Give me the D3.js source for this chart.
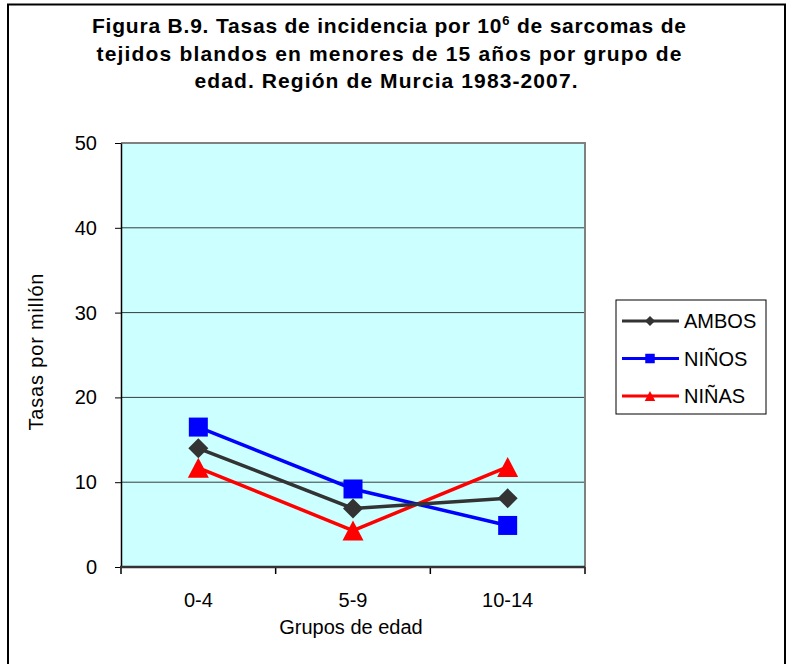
<!DOCTYPE html>
<html>
<head>
<meta charset="utf-8">
<script src="https://cdn.jsdelivr.net/npm/d3@7"></script>
<style>
  body { margin:0; background:#fff; }
  text { font-family: "Liberation Sans", Arial, sans-serif; fill:#000; }
  .title { font-size:21px; font-weight:bold; }
  .tick text { font-size:20px; font-family: "Liberation Sans", Arial, sans-serif; }
  .axistitle { font-size:20px; }
  .legtext { font-size:20px; }
</style>
</head>
<body>
<div id="chart"></div>
<script>
// data
var categories = ["0-4", "5-9", "10-14"];
var ambos = [14.0, 6.9, 8.1];
var ninos = [16.5, 9.2, 4.9];
var ninas = [11.7, 4.3, 11.8];
var yTicks = [0, 10, 20, 30, 40, 50];
var seriesNames = ["AMBOS", "NIÑOS", "NIÑAS"];

var viewboxwidth = 787;
var viewboxheight = 664;
var plot = {left:121, right:585, top:143, bottom:567};

var svg = d3.select("#chart")
    .append("svg")
    .attr("width", viewboxwidth)
    .attr("height", viewboxheight);

// outer frame
svg.append("rect")
    .attr("x", 8).attr("y", 4.5)
    .attr("width", 777).attr("height", 680)
    .attr("fill", "#fff")
    .attr("stroke", "#000")
    .attr("stroke-width", 2);

// title
var titleX = 389;
var t1 = svg.append("text").attr("class","title")
    .attr("x", titleX).attr("y", 33)
    .attr("text-anchor","middle")
    .attr("textLength", 594).attr("lengthAdjust","spacing");
t1.append("tspan").text("Figura B.9. Tasas de incidencia por 10");
t1.append("tspan").text("6").attr("font-size","13px").attr("dy",-8);
t1.append("tspan").text(" de sarcomas de").attr("dy",8);

svg.append("text").attr("class","title")
    .attr("x", titleX).attr("y", 61)
    .attr("text-anchor","middle")
    .attr("textLength", 585).attr("lengthAdjust","spacing")
    .text("tejidos blandos en menores de 15 años por grupo de");

svg.append("text").attr("class","title")
    .attr("x", titleX - 3).attr("y", 88)
    .attr("text-anchor","middle")
    .attr("textLength", 383).attr("lengthAdjust","spacing")
    .text("edad. Región de Murcia 1983-2007.");

// scales
var x = d3.scaleBand()
    .domain(categories)
    .range([plot.left, plot.right]);

var y = d3.scaleLinear()
    .domain([0, 50])
    .range([plot.bottom, plot.top]);

function cx(c){ return x(c) + x.bandwidth()/2; }

// plot area
svg.append("rect")
    .attr("x", plot.left).attr("y", plot.top)
    .attr("width", plot.right - plot.left)
    .attr("height", plot.bottom - plot.top)
    .attr("fill", "#CCFFFF");

// gridlines
svg.append("g").selectAll("line")
    .data(yTicks.filter(function(d){ return d > 0 && d < 50; }))
    .enter().append("line")
    .attr("x1", plot.left).attr("x2", plot.right)
    .attr("y1", function(d){ return y(d); })
    .attr("y2", function(d){ return y(d); })
    .attr("stroke", "#3a3a3a")
    .attr("stroke-width", 1);

// gray border top / right
svg.append("path")
    .attr("d", "M" + plot.left + "," + plot.top + "H" + plot.right + "V" + plot.bottom)
    .attr("fill", "none")
    .attr("stroke", "#808080")
    .attr("stroke-width", 2);

// y axis
var yAxis = svg.append("g")
    .attr("transform", "translate(" + plot.left + ",0)")
    .call(d3.axisLeft(y).tickValues(yTicks).tickSize(6).tickSizeOuter(0).tickPadding(18));
yAxis.select(".domain").attr("stroke", "#000").attr("stroke-width", 1.5);
yAxis.selectAll(".tick line").attr("stroke", "#000");
yAxis.selectAll(".tick text").attr("fill", "#000");

// x axis labels
var xAxis = svg.append("g")
    .attr("transform", "translate(0," + plot.bottom + ")")
    .call(d3.axisBottom(x).tickSize(0).tickPadding(26));
xAxis.select(".domain").remove();
xAxis.selectAll(".tick text").attr("fill", "#000");

// x axis line and boundary ticks
svg.append("g").selectAll("line")
    .data(categories.map(function(c){ return x(c); }).concat([x.range()[1]]))
    .enter().append("line")
    .attr("x1", function(d){ return d; }).attr("x2", function(d){ return d; })
    .attr("y1", plot.bottom).attr("y2", plot.bottom + 7)
    .attr("stroke", "#000").attr("stroke-width", 1.5);

svg.append("line")
    .attr("x1", plot.left - 1).attr("x2", plot.right)
    .attr("y1", plot.bottom).attr("y2", plot.bottom)
    .attr("stroke", "#333").attr("stroke-width", 2.5);

// axis titles
svg.append("text").attr("class","axistitle")
    .attr("x", (plot.left + plot.right)/2 - 2).attr("y", 634)
    .attr("text-anchor","middle")
    .text("Grupos de edad");

svg.append("text").attr("class","axistitle")
    .attr("transform", "translate(43," + ((plot.top + plot.bottom)/2 - 3) + ") rotate(-90)")
    .attr("text-anchor","middle")
    .attr("textLength", 157).attr("lengthAdjust","spacing")
    .text("Tasas por millón");

// marker shapes
function diamond(s){ return "M0," + (-s) + "L" + s + ",0L0," + s + "L" + (-s) + ",0Z"; }
function square(s){ return "M" + (-s) + "," + (-s) + "H" + s + "V" + s + "H" + (-s) + "Z"; }
function triangle(s){ return "M0," + (-s) + "L" + (s*1.05) + "," + s + "L" + (-s*1.05) + "," + s + "Z"; }

var series = [
    {name: seriesNames[0], values: ambos, color: "#333333", shape: diamond, size: 10},
    {name: seriesNames[1], values: ninos, color: "#0000FF", shape: square, size: 9.5},
    {name: seriesNames[2], values: ninas, color: "#FF0000", shape: triangle, size: 10}
];

var line = d3.line()
    .x(function(d, i){ return cx(categories[i]); })
    .y(function(d){ return y(d); });

// draw in reverse so AMBOS sits on top like the reference
series.slice().reverse().forEach(function(s){
    var g = svg.append("g");
    g.append("path")
        .attr("d", line(s.values))
        .attr("fill", "none")
        .attr("stroke", s.color)
        .attr("stroke-width", 3.5);
    g.selectAll(".marker")
        .data(s.values)
        .enter().append("path")
        .attr("class", "marker")
        .attr("transform", function(d, i){ return "translate(" + cx(categories[i]) + "," + y(d) + ")"; })
        .attr("d", s.shape(s.size))
        .attr("fill", s.color);
});

// legend
var legend = svg.append("g");
legend.append("rect")
    .attr("x", 616).attr("y", 300)
    .attr("width", 150).attr("height", 114)
    .attr("fill", "#fff")
    .attr("stroke", "#000")
    .attr("stroke-width", 1);

var legY = d3.scalePoint().domain(seriesNames).range([321, 396]);

series.forEach(function(s){
    var ly = legY(s.name);
    legend.append("line")
        .attr("x1", 622).attr("x2", 679)
        .attr("y1", ly).attr("y2", ly)
        .attr("stroke", s.color).attr("stroke-width", 3);
    legend.append("path")
        .attr("transform", "translate(650," + ly + ")")
        .attr("d", s.shape(s.size/2))
        .attr("fill", s.color);
    legend.append("text").attr("class","legtext")
        .attr("x", 684).attr("y", ly)
        .attr("dy", "0.36em")
        .text(s.name);
});
</script>
</body>
</html>
